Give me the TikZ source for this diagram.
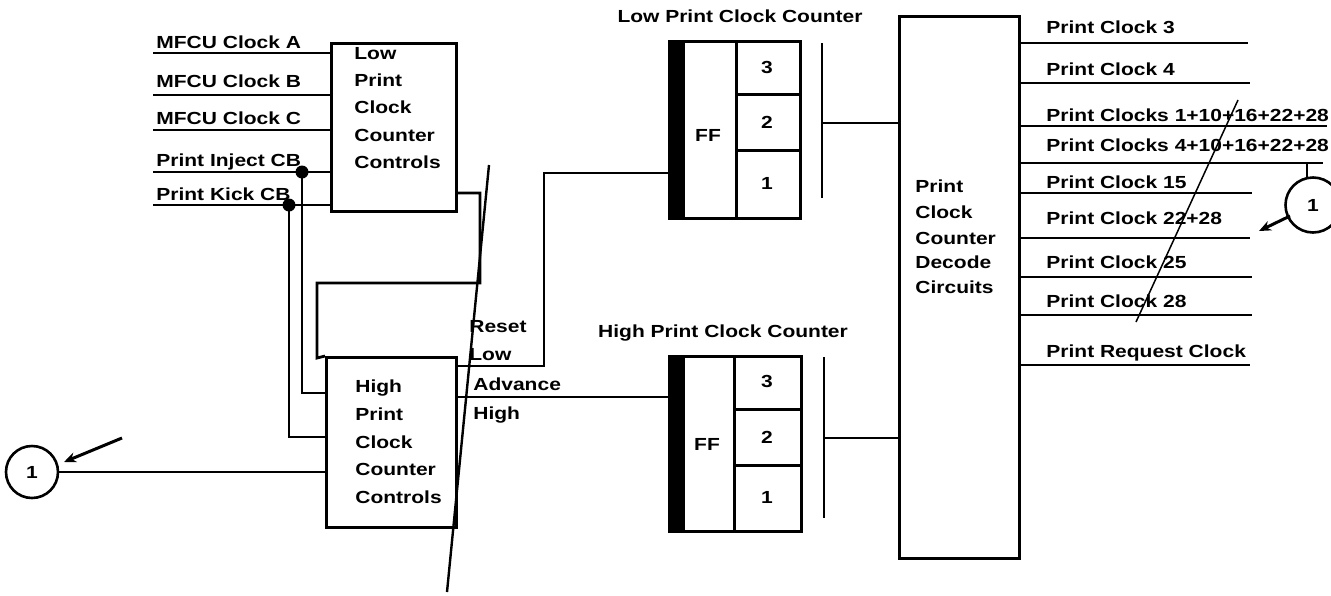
\documentclass[tikz,border=0pt]{standalone}
\usepackage{fontspec}
\setmainfont{Liberation Sans}[FakeStretch=1.2]
\usetikzlibrary{arrows.meta,calc}
\tikzset{
  every node/.style={font=\fontsize{17.5}{20}\selectfont\bfseries, inner sep=0pt},
  box/.style={draw, line width=3pt, anchor=north west},
  txt/.style={anchor=base west},
  cell/.style={draw, line width=2.8pt, anchor=north west},
  bar/.style={draw, line width=2.8pt, fill=black, anchor=north west},
  dot/.style={circle, fill=black, minimum size=13pt},
  ref/.style={circle, draw, line width=2.6pt},
  wire/.style={line width=2.8pt},
  pointer/.style={line width=3pt, -{Stealth[length=12pt,width=10pt]}},
  stroke/.style={line width=1.5pt}
}
\begin{document}
\begin{tikzpicture}[x=1pt, y=-1pt, line width=2.8pt, line join=miter]
\useasboundingbox (0,0) rectangle (1331,595);

% ---------- Low print clock counter controls ----------
\node[box, minimum width=125pt, minimum height=168pt] (lowctl) at (330,42) {};
\node[txt] (lt1) at (353,59) {Low};
\node[txt] (lt2) at (353,86) {Print};
\node[txt] (lt3) at (353,113) {Clock};
\node[txt] (lt4) at (353,141) {Counter};
\node[txt] (lt5) at (353,168) {Controls};

% inputs
\node[txt] (ia) at (155,48) {MFCU Clock A};
\node[txt] (ib) at (155,87) {MFCU Clock B};
\node[txt] (ic) at (155,124) {MFCU Clock C};
\node[txt] (ii) at (155,166) {Print Inject CB};
\node[txt] (ik) at (155,200) {Print Kick CB};
\coordinate (sa) at (153,53);
\coordinate (sb) at (153,95);
\coordinate (sc) at (153,130);
\coordinate (si) at (153,172);
\coordinate (sk) at (153,205);
\draw[wire] (sa) -- (sa -| lowctl.west);
\draw[wire] (sb) -- (sb -| lowctl.west);
\draw[wire] (sc) -- (sc -| lowctl.west);
\draw[wire] (si) -- (si -| lowctl.west);
\draw[wire] (sk) -- (sk -| lowctl.west);
\node[dot] (dInj) at (302,172) {};
\node[dot] (dKick) at (289,205) {};

% ---------- High print clock counter controls ----------
\node[box, minimum width=130pt, minimum height=170pt] (hictl) at (325,356) {};
\node[txt] (ht1) at (354,392) {High};
\node[txt] (ht2) at (354,420) {Print};
\node[txt] (ht3) at (354,448) {Clock};
\node[txt] (ht4) at (354,475) {Counter};
\node[txt] (ht5) at (354,503) {Controls};

\coordinate (hIn1) at (325,393);
\coordinate (hIn2) at (325,437);
\coordinate (hIn3) at (325,472);
\draw[wire] (dInj.center) |- (hIn1);
\draw[wire] (dKick.center) |- (hIn2);

% low controls output to high controls
\coordinate (loOut) at (455,193);
\draw[wire] (loOut) -- (480,193) -- (480,283) -- (317,283) -- (317,358) -- (hictl.north west);

% reference circle left
\node[ref, minimum size=52pt] (c1L) at (32,472) {1};
\draw[wire] (c1L.east) -- (hIn3);
\coordinate (pL1) at (122,438);
\coordinate (pL2) at (64,462);
\draw[pointer] (pL1) -- (pL2);

% ---------- Low print clock counter ----------
\node[anchor=base] (lowtitle) at (740,22) {Low Print Clock Counter};
\node[bar, minimum width=14pt, minimum height=177pt] (lbar) at (668,40) {};
\node[cell, minimum width=53pt, minimum height=177pt] (lff) at (682,40) {};
\node[cell, minimum width=64pt, minimum height=53pt] (l3) at (735,40) {};
\node[cell, minimum width=64pt, minimum height=56pt] (l2) at (735,93) {};
\node[cell, minimum width=64pt, minimum height=68pt] (l1) at (735,149) {};
\node (lffT) at (708,135) {FF};
\node (l3T) at (767,67) {3};
\node (l2T) at (767,122) {2};
\node (l1T) at (767,183) {1};
\coordinate (lbt) at (822,43);
\coordinate (lbb) at (822,198);
\coordinate (lbm) at (822,123);
\draw[wire] (lbt) -- (lbb);

% ---------- High print clock counter ----------
\node[anchor=base] (hititle) at (723,337) {High Print Clock Counter};
\node[bar, minimum width=14pt, minimum height=175pt] (hbar) at (668,355) {};
\node[cell, minimum width=51pt, minimum height=175pt] (hff) at (682,355) {};
\node[cell, minimum width=67pt, minimum height=53pt] (h3) at (733,355) {};
\node[cell, minimum width=67pt, minimum height=56pt] (h2) at (733,408) {};
\node[cell, minimum width=67pt, minimum height=66pt] (h1) at (733,464) {};
\node (hffT) at (707,444) {FF};
\node (h3T) at (767,381) {3};
\node (h2T) at (767,437) {2};
\node (h1T) at (767,497) {1};
\coordinate (hbt) at (824,357);
\coordinate (hbb) at (824,518);
\coordinate (hbm) at (824,438);
\draw[wire] (hbt) -- (hbb);

% reset low / advance high
\node[txt] (rs1) at (468,332) {Reset};
\node[txt] (rs2) at (468,360) {Low};
\node[txt] (ad1) at (472,390) {Advance};
\node[txt] (ad2) at (472,419) {High};
\coordinate (rOut) at (455,366);
\coordinate (aOut) at (455,397);
\draw[wire] (rOut) -- (544,366) -- (544,173) -- (lbar.west |- 0,173);
\draw[wire] (aOut) -- (aOut -| hbar.west);

% ---------- Decode circuits ----------
\node[box, minimum width=120pt, minimum height=542pt] (dec) at (898,15) {};
\node[txt] (dt1) at (914,192) {Print};
\node[txt] (dt2) at (914,218) {Clock};
\node[txt] (dt3) at (914,244) {Counter};
\node[txt] (dt4) at (914,268) {Decode};
\node[txt] (dt5) at (914,293) {Circuits};
\draw[wire] (lbm) -- (lbm -| dec.west);
\draw[wire] (hbm) -- (hbm -| dec.west);

% outputs
\foreach \n/\lab/\b/\y/\e in {
  o1/{Print Clock 3}/33/43/1248,
  o2/{Print Clock 4}/75/83/1250,
  o3/{Print Clocks 1+10+16+22+28}/121/126/1327,
  o4/{Print Clocks 4+10+16+22+28}/151/163/1323,
  o5/{Print Clock 15}/188/193/1252,
  o6/{Print Clock 22+28}/224/238/1250,
  o7/{Print Clock 25}/268/277/1252,
  o8/{Print Clock 28}/307/315/1252,
  o9/{Print Request Clock}/357/365/1250}{
  \node[txt] (\n t) at (1045,\b) {\lab};
  \coordinate (\n s) at (1018,\y);
  \coordinate (\n e) at (\e,\y);
  \draw[wire] (\n s) -- (\n e);
}

% reference circle right
\node[ref, minimum size=55pt] (c1R) at (1313,205) {1};
\coordinate (tk) at (1307,163);
\draw[wire] (tk) -- (1307,178);
\coordinate (pR1) at (1290,216);
\coordinate (pR2) at (1259,231);
\draw[pointer] (pR1) -- (pR2);

% pen strokes
\coordinate (sl1) at (489,165);
\coordinate (sl2) at (447,592);
\draw[line width=2.4pt] (sl1) -- (sl2);
\coordinate (sr1) at (1238,100);
\coordinate (sr2) at (1136,322);
\draw[stroke] (sr1) -- (sr2);
\end{tikzpicture}
\end{document}
